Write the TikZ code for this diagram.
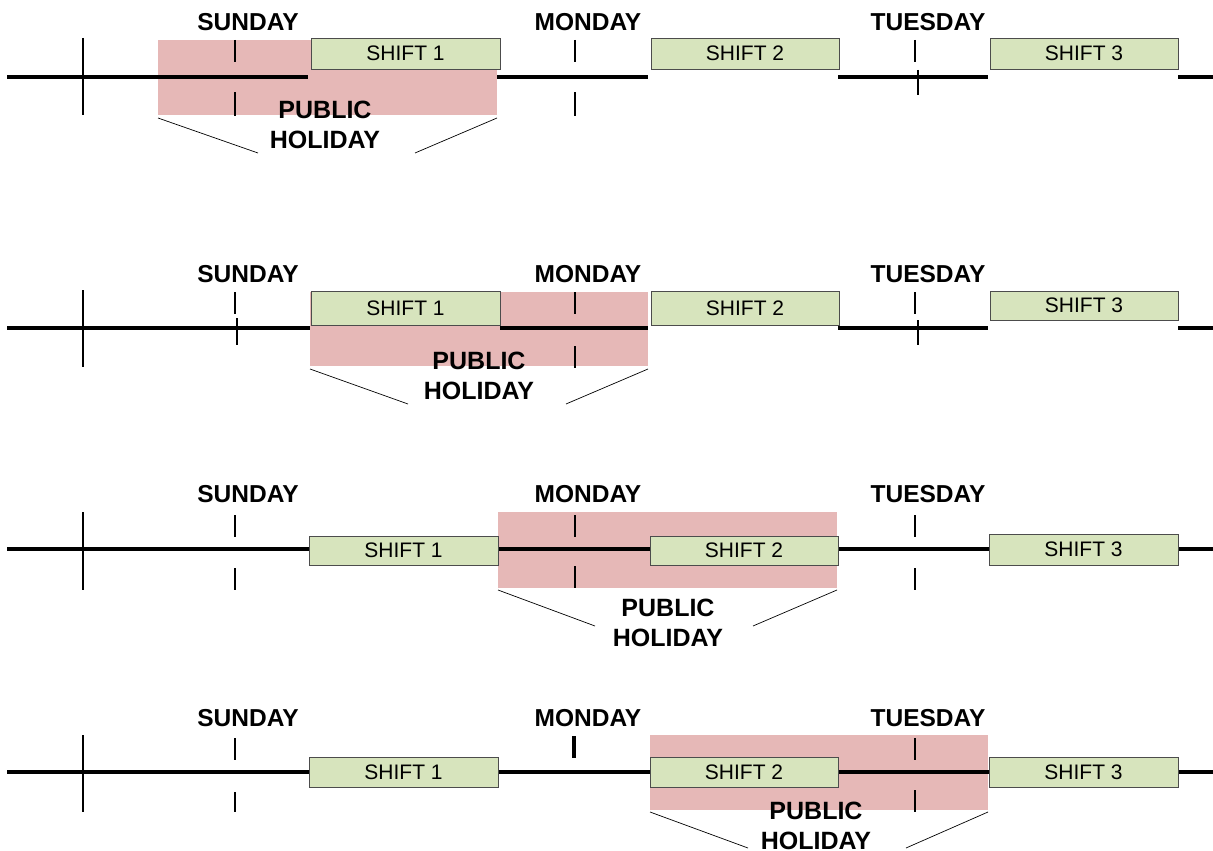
\documentclass[tikz,border=0pt]{standalone}
\usepackage{fontspec}
\setmainfont{Liberation Sans}
\definecolor{holidayfill}{HTML}{E6B8B7}
\definecolor{shiftfill}{HTML}{D7E4BD}
\begin{document}
\begin{tikzpicture}[x=1pt,y=-1pt,
  axis/.style={line width=3.6pt},
  daytick/.style={line width=2.6pt},
  brace/.style={line width=0.7pt},
  holibox/.style={fill=holidayfill,draw=none,inner sep=0pt,outer sep=0pt},
  shiftbox/.style={fill=shiftfill,draw=black!70,line width=0.9pt,inner sep=0pt,outer sep=0pt,
    font=\fontsize{21}{24}\selectfont},
  daylabel/.style={font=\bfseries\fontsize{24.5}{28}\selectfont,inner sep=0pt},
  holilabel/.style={font=\bfseries\fontsize{25}{29.5}\selectfont,align=center,inner sep=0pt}]
\useasboundingbox (0,0) rectangle (1213,851);

% ---------------- row 1: holiday covers Sunday evening ----------------
\node[holibox,minimum width=339pt,minimum height=75pt] (h1) at (327.5,77.5) {};
\coordinate (r1a) at (7,77);    \coordinate (r1b) at (308,77);
\coordinate (r1c) at (497,77);  \coordinate (r1d) at (648,77);
\coordinate (r1e) at (838,77);  \coordinate (r1f) at (988,77);
\coordinate (r1g) at (1178,77); \coordinate (r1h) at (1213,77);
\draw[axis] (r1a) -- (r1b) (r1c) -- (r1d) (r1e) -- (r1f) (r1g) -- (r1h);
\draw[daytick] (83,38) -- (83,115);
\draw[daytick] (235,40) -- (235,62) (235,92) -- (235,116);
\draw[daytick] (575,40) -- (575,62) (575,92) -- (575,116);
\draw[daytick] (915,40) -- (915,62) (918,70) -- (918,95);
\node[shiftbox,minimum width=189pt,minimum height=31pt] (s11) at (405.5,53.5) {SHIFT 1};
\node[shiftbox,minimum width=188pt,minimum height=31pt] (s12) at (745,53.5) {SHIFT 2};
\node[shiftbox,minimum width=188pt,minimum height=31pt] (s13) at (1084,53.5) {SHIFT 3};
\node[daylabel] (d1s) at (248,22) {SUNDAY};
\node[daylabel] (d1m) at (588,22) {MONDAY};
\node[daylabel] (d1t) at (928,22) {TUESDAY};
\node[holilabel] (p1) at (325,125) {PUBLIC\\HOLIDAY};
\coordinate (b1l) at (258,153); \coordinate (b1r) at (415,153);
\draw[brace] ([yshift=-3pt]h1.south west) -- (b1l);
\draw[brace] ([yshift=-3pt]h1.south east) -- (b1r);

% ---------------- row 2: holiday covers Sunday night ----------------
\node[holibox,minimum width=338pt,minimum height=74pt] (h2) at (479,329) {};
\coordinate (r2a) at (7,328);    \coordinate (r2b) at (310,328);
\coordinate (r2c) at (500,328);  \coordinate (r2d) at (648,328);
\coordinate (r2e) at (838,328);  \coordinate (r2f) at (988,328);
\coordinate (r2g) at (1178,328); \coordinate (r2h) at (1213,328);
\draw[axis] (r2a) -- (r2b) (r2c) -- (r2d) (r2e) -- (r2f) (r2g) -- (r2h);
\draw[daytick] (83,290) -- (83,367);
\draw[daytick] (235,292) -- (235,314) (237,318) -- (237,345);
\draw[daytick] (575,292) -- (575,314) (575,346) -- (575,368);
\draw[daytick] (915,292) -- (915,314) (918,320) -- (918,345);
\node[shiftbox,minimum width=189pt,minimum height=34pt] (s21) at (405.5,308) {SHIFT 1};
\node[shiftbox,minimum width=188pt,minimum height=34pt] (s22) at (745,308) {SHIFT 2};
\node[shiftbox,minimum width=188pt,minimum height=29pt] (s23) at (1084,305.5) {SHIFT 3};
\node[daylabel] (d2s) at (248,274) {SUNDAY};
\node[daylabel] (d2m) at (588,274) {MONDAY};
\node[daylabel] (d2t) at (928,274) {TUESDAY};
\node[holilabel] (p2) at (479,376) {PUBLIC\\HOLIDAY};
\coordinate (b2l) at (408,404); \coordinate (b2r) at (566,404);
\draw[brace] ([yshift=-3pt]h2.south west) -- (b2l);
\draw[brace] ([yshift=-3pt]h2.south east) -- (b2r);

% ---------------- row 3: holiday covers Monday ----------------
\node[holibox,minimum width=339pt,minimum height=76pt] (h3) at (667.5,550) {};
\coordinate (r3a) at (7,549);    \coordinate (r3b) at (309,549);
\coordinate (r3c) at (498,549);  \coordinate (r3d) at (650,549);
\coordinate (r3e) at (838,549);  \coordinate (r3f) at (989,549);
\coordinate (r3g) at (1178,549); \coordinate (r3h) at (1213,549);
\draw[axis] (r3a) -- (r3b) (r3c) -- (r3d) (r3e) -- (r3f) (r3g) -- (r3h);
\draw[daytick] (83,512) -- (83,590);
\draw[daytick] (235,515) -- (235,537) (235,568) -- (235,590);
\draw[daytick] (575,515) -- (575,537) (575,566) -- (575,588);
\draw[daytick] (915,515) -- (915,537) (915,568) -- (915,590);
\node[shiftbox,minimum width=189pt,minimum height=29pt] (s31) at (403.5,550.5) {SHIFT 1};
\node[shiftbox,minimum width=188pt,minimum height=29pt] (s32) at (744,550.5) {SHIFT 2};
\node[shiftbox,minimum width=189pt,minimum height=31pt] (s33) at (1083.5,549.5) {SHIFT 3};
\node[daylabel] (d3s) at (248,494) {SUNDAY};
\node[daylabel] (d3m) at (588,494) {MONDAY};
\node[daylabel] (d3t) at (928,494) {TUESDAY};
\node[holilabel] (p3) at (668,623) {PUBLIC\\HOLIDAY};
\coordinate (b3l) at (595,626); \coordinate (b3r) at (753,626);
\draw[brace] ([yshift=-2pt]h3.south west) -- (b3l);
\draw[brace] ([yshift=-2pt]h3.south east) -- (b3r);

% ---------------- row 4: holiday covers Monday night ----------------
\node[holibox,minimum width=338pt,minimum height=75pt] (h4) at (819,772.5) {};
\coordinate (r4a) at (7,772);    \coordinate (r4b) at (309,772);
\coordinate (r4c) at (498,772);  \coordinate (r4d) at (650,772);
\coordinate (r4e) at (838,772);  \coordinate (r4f) at (989,772);
\coordinate (r4g) at (1178,772); \coordinate (r4h) at (1213,772);
\draw[axis] (r4a) -- (r4b) (r4c) -- (r4d) (r4e) -- (r4f) (r4g) -- (r4h);
\draw[daytick] (83,735) -- (83,812);
\draw[daytick] (235,738) -- (235,760) (235,792) -- (235,812);
\draw[daytick,line width=3.4pt] (574,736) -- (574,758);
\draw[daytick] (915,738) -- (915,760) (915,790) -- (915,812);
\node[shiftbox,minimum width=189pt,minimum height=30pt] (s41) at (403.5,772) {SHIFT 1};
\node[shiftbox,minimum width=188pt,minimum height=30pt] (s42) at (744,772) {SHIFT 2};
\node[shiftbox,minimum width=189pt,minimum height=30pt] (s43) at (1083.5,772) {SHIFT 3};
\node[daylabel] (d4s) at (248,718) {SUNDAY};
\node[daylabel] (d4m) at (588,718) {MONDAY};
\node[daylabel] (d4t) at (928,718) {TUESDAY};
\node[holilabel] (p4) at (816,826) {PUBLIC\\HOLIDAY};
\coordinate (b4l) at (748,848); \coordinate (b4r) at (906,848);
\draw[brace] ([yshift=-2pt]h4.south west) -- (b4l);
\draw[brace] ([yshift=-2pt]h4.south east) -- (b4r);
\end{tikzpicture}
\end{document}
